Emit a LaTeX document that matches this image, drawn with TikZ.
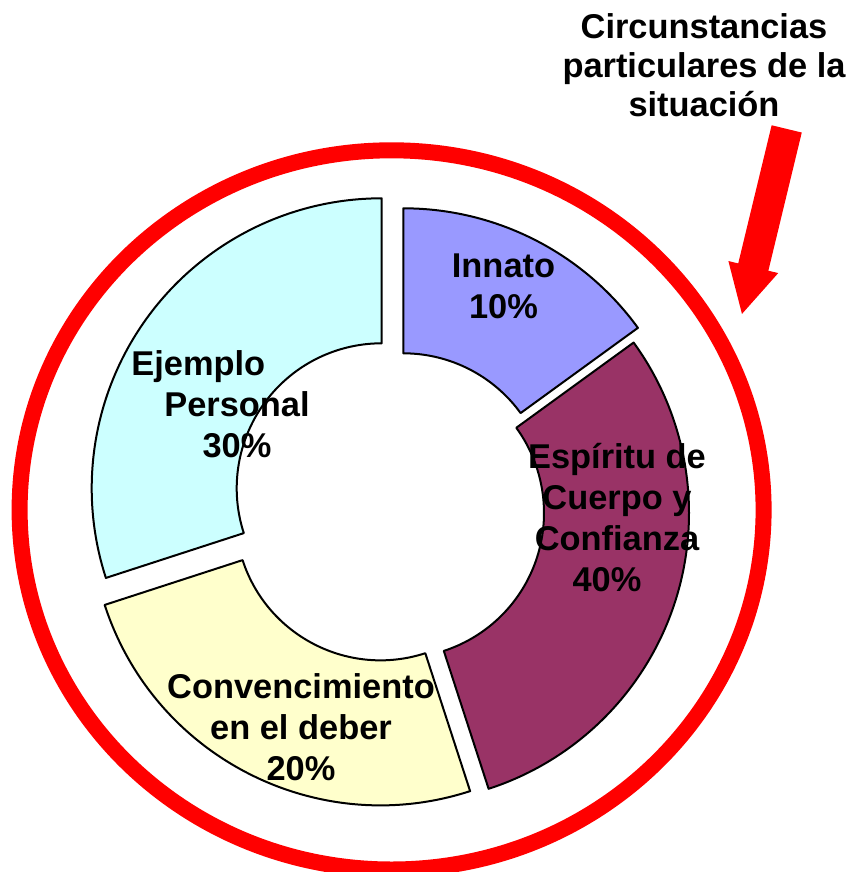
\documentclass[tikz,border=0pt]{standalone}
\usepackage{fontspec}
\setmainfont{Liberation Sans}
\usetikzlibrary{arrows.meta}

\definecolor{innato}{HTML}{9999FF}
\definecolor{espiritu}{HTML}{993366}
\definecolor{conv}{HTML}{FFFFCC}
\definecolor{ejemplo}{HTML}{CCFFFF}

\begin{document}
\begin{tikzpicture}[x=0.75pt, y=0.75pt,
    slice/.style = {draw, line width=1.5pt, line join=round},
    lbl/.style = {font=\bfseries\fontsize{25.8pt}{30.75pt}\selectfont, align=center, inner sep=0pt},
    ring/.style = {draw=red, line width=12pt}]
    \useasboundingbox (0,0) rectangle (853,-872);

    % red circle
    \draw[ring] (391.6,-509.9) ellipse [x radius=372, y radius=359.6];

    % slices: centre x / centre y / from / to / colour
    \foreach \cx/\cy/\a/\b/\col [count = \i] in
        {403.3/498.3/36/90/innato, 399/513/-72/36/espiritu,
         380.5/515.3/198/288/conv, 381.7/488.3/90/198/ejemplo} {
        \draw[slice, fill=\col] (\cx,-\cy) ++(\a:290) arc (\a:\b:290)
            -- ++(\b:-145) arc (\b:\a:145) -- cycle;
    }

    \node[lbl] (innato) at (503.5,-286.3) {Innato\\10\%};
    \node[lbl] (espiritu) at (617,-517.7) {Esp\'iritu de\\Cuerpo y\\Confianza\\40\%\hspace*{15pt}};
    \node[lbl] (conv) at (301,-726.9) {Convencimiento\\en el deber\\20\%};
    \node[lbl] (ejemplo) at (237,-404) {Ejemplo\hspace*{58pt}\\Personal\\30\%};

    % title and arrow
    \node[lbl, font=\bfseries\fontsize{25.8pt}{29.4pt}\selectfont] (titulo) at (704,-65.2)
        {Circunstancias\\particulares de la\\situaci\'on};
    \coordinate (flechaini) at (786.7,-128.9);
    \coordinate (flechafin) at (741.7,-315);
    \draw[red, line width=23.25pt, -{Triangle[width=35.5pt, length=37pt]}] (flechaini) -- (flechafin);
\end{tikzpicture}
\end{document}
